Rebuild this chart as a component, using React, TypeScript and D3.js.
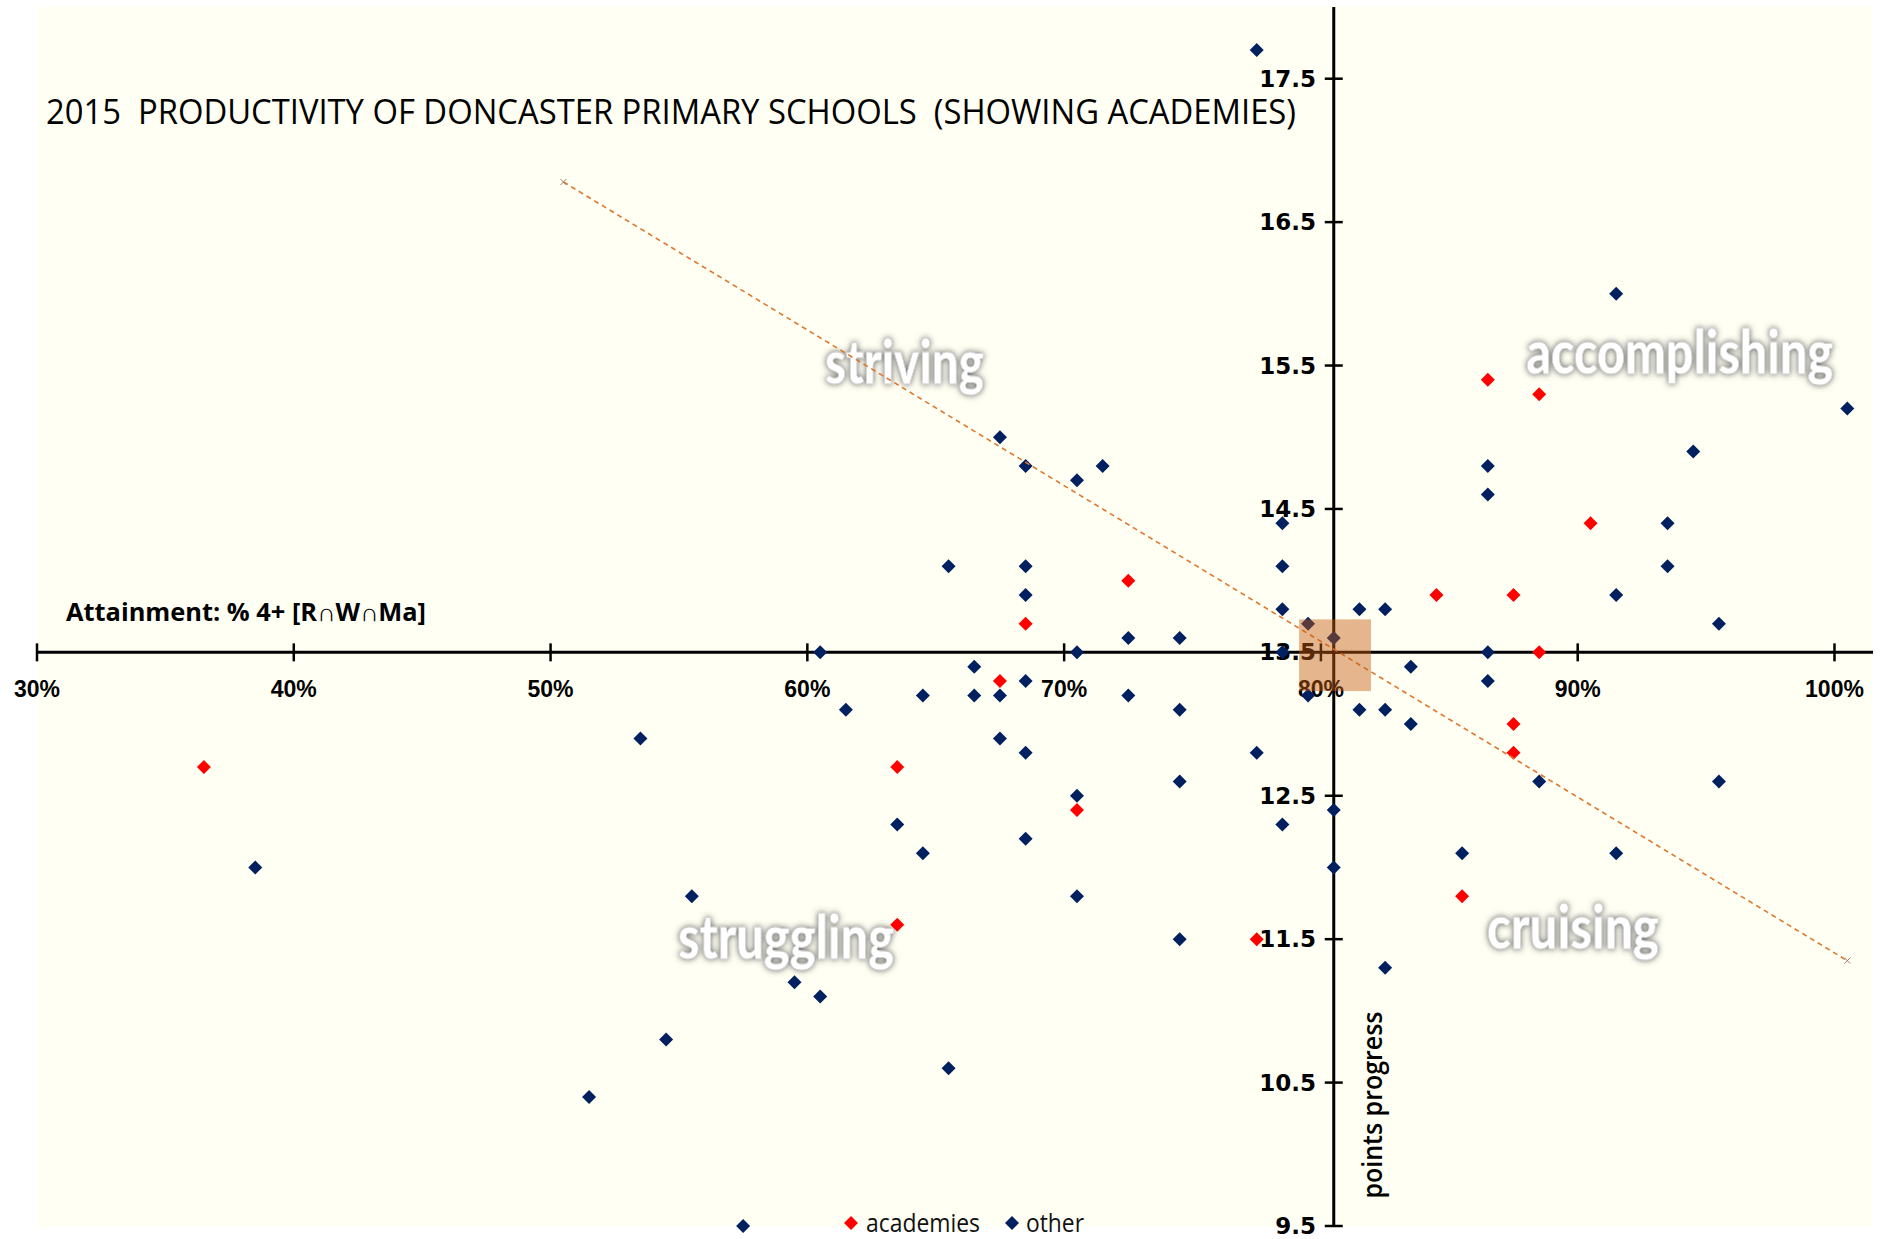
import React from "react";
import * as d3 from "d3";

// ---------- data ----------
const academiesX = [36.5, 63.5, 63.5, 67.5, 68.5, 70.5, 72.5, 77.5, 86.5, 88.5, 90.5, 84.5, 87.5, 88.5, 87.5, 87.5, 85.5];
const academiesY = [12.7, 12.7, 11.6, 13.3, 13.7, 12.4, 14.0, 11.5, 15.4, 15.3, 14.4, 13.9, 13.9, 13.5, 13.0, 12.8, 11.8];

const otherX = [
  77.5, 91.5, 100.5, 67.5, 68.5, 71.5, 70.5, 86.5, 86.5, 94.5, 78.5, 93.5, 65.5, 68.5, 78.5, 93.5,
  68.5, 91.5, 78.5, 81.5, 82.5, 95.5, 79.5, 72.5, 74.5, 80.5, 60.5, 70.5, 78.5, 86.5, 83.5, 66.5,
  68.5, 86.5, 64.5, 66.5, 67.5, 72.5, 79.5, 61.5, 74.5, 81.5, 82.5, 83.5, 53.5, 67.5, 68.5, 77.5,
  88.5, 95.5, 74.5, 70.5, 80.5, 63.5, 78.5, 68.5, 64.5, 85.5, 91.5, 38.5, 80.5, 55.5, 70.5, 74.5,
  82.5, 59.5, 60.5, 54.5, 65.5, 51.5, 57.5,
];
const otherY = [
  17.7, 16.0, 15.2, 15.0, 14.8, 14.8, 14.7, 14.8, 14.6, 14.9, 14.4, 14.4, 14.1, 14.1, 14.1, 14.1,
  13.9, 13.9, 13.8, 13.8, 13.8, 13.7, 13.7, 13.6, 13.6, 13.6, 13.5, 13.5, 13.5, 13.5, 13.4, 13.4,
  13.3, 13.3, 13.2, 13.2, 13.2, 13.2, 13.2, 13.1, 13.1, 13.1, 13.1, 13.0, 12.9, 12.9, 12.8, 12.8,
  12.6, 12.6, 12.6, 12.5, 12.4, 12.3, 12.3, 12.2, 12.1, 12.1, 12.1, 12.0, 12.0, 11.8, 11.8, 11.5,
  11.3, 11.2, 11.1, 10.8, 10.6, 10.4, 9.5,
];

const trendX = [50.5, 100.5];
const trendY = [16.78, 11.35];

const xTickValues = [30, 40, 50, 60, 70, 80, 90, 100];
const yTickValues = [9.5, 10.5, 11.5, 12.5, 13.5, 14.5, 15.5, 16.5, 17.5];

const xDomain = [30, 101.5];
const yDomain = [9.5, 18];
const yAxisCrossX = 80.5;
const xAxisCrossY = 13.5;

// highlight box (data units)
const boxX = [79.15, 81.95];
const boxY = [13.23, 13.73];

const titleText = "2015  PRODUCTIVITY OF DONCASTER PRIMARY SCHOOLS  (SHOWING ACADEMIES)";
const xAxisTitle = "Attainment: % 4+ [R\u2229W\u2229Ma]";
const yAxisTitle = "points progress";
const legendLabels = ["academies", "other"];
const quadrantLabels = ["striving", "accomplishing", "struggling", "cruising"];
const quadrantX = [63.78, 93.97, 59.17, 89.82];
const quadrantY = [15.37, 15.44, 11.36, 11.43];

const RED = "#FF0000";
const NAVY = "#002060";

const W = 1881;
const H = 1239;

const diamond = (r: number) => `M0,${-r}L${r},0L0,${r}L${-r},0Z`;

export default function App() {
  const x = d3.scaleLinear().domain(xDomain).range([37, 1873]);
  const y = d3.scaleLinear().domain(yDomain).range([1226, 7]);
  const axY = y(xAxisCrossY);
  const axX = x(yAxisCrossX);
  const fmtPct = (v: number) => `${v}%`;
  const fmtY = d3.format(".1f");

  const academies = academiesX.map((v, i) => [v, academiesY[i]]);
  const others = otherX.map((v, i) => [v, otherY[i]]);
  const line = d3
    .line<number>()
    .x((d) => x(trendX[d]))
    .y((d) => y(trendY[d]));

  const qWidths = [159, 307, 216, 172];
  const R = 7;

  return (
    <svg
      width={W}
      height={H}
      style={{ position: "absolute", left: 0, top: 0, display: "block" }}
      xmlns="http://www.w3.org/2000/svg"
    >
      <defs>
        <filter id="glow" x="-20%" y="-40%" width="140%" height="180%">
          <feGaussianBlur in="SourceAlpha" stdDeviation="3" result="b" />
          <feFlood floodColor="#5a5a5a" floodOpacity="0.95" />
          <feComposite in2="b" operator="in" result="s" />
          <feMerge>
            <feMergeNode in="s" />
            <feMergeNode in="SourceGraphic" />
          </feMerge>
        </filter>
      </defs>
      <rect x={0} y={0} width={W} height={H} fill="#ffffff" />
      <rect x={x(xDomain[0])} y={y(yDomain[1])} width={x(xDomain[1]) - x(xDomain[0])} height={y(yDomain[0]) - y(yDomain[1]) + 1} fill="#FFFFF3" />

      {/* quadrant labels */}
      {quadrantLabels.map((t, i) => (
        <text
          key={t}
          x={x(quadrantX[i])}
          y={y(quadrantY[i])}
          textAnchor="middle"
          fontFamily="Lato, 'Open Sans', sans-serif"
          fontWeight={900}
          fontSize={60}
          fill="#ffffff"
          stroke="#cfcfcf"
          strokeWidth={0.8}
          filter="url(#glow)"
          textLength={qWidths[i]}
          lengthAdjust="spacingAndGlyphs"
        >
          {t}
        </text>
      ))}

      {/* title */}
      <text
        x={46}
        y={124}
        xmlSpace="preserve"
        style={{ whiteSpace: "pre" }}
        fontFamily="'Open Sans', 'Liberation Sans', sans-serif"
        fontSize={34}
        fill="#000"
        textLength={1250}
        lengthAdjust="spacingAndGlyphs"
      >
        {titleText}
      </text>

      {/* x axis */}
      <line x1={x(xDomain[0])} x2={x(xDomain[1])} y1={axY} y2={axY} stroke="#000" strokeWidth={3} />
      {xTickValues.map((v) => (
        <g key={v}>
          <line x1={x(v)} x2={x(v)} y1={axY - 9} y2={axY + 9} stroke="#000" strokeWidth={2.5} />
          <text
            x={x(v)}
            y={697}
            textAnchor="middle"
            fontFamily="'Liberation Sans', Arial, sans-serif"
            fontWeight={700}
            fontSize={23}
            fill="#000"
          >
            {fmtPct(v)}
          </text>
        </g>
      ))}

      {/* y axis */}
      <line x1={axX} x2={axX} y1={y(yDomain[0])} y2={y(yDomain[1])} stroke="#000" strokeWidth={3} />
      {yTickValues.map((v) => (
        <g key={v}>
          <line x1={axX - 9} x2={axX + 9} y1={y(v)} y2={y(v)} stroke="#000" strokeWidth={2.5} />
          <text
            x={1316}
            y={y(v) + 8}
            textAnchor="end"
            fontFamily="'DejaVu Sans', Verdana, sans-serif"
            fontWeight={700}
            fontSize={23}
            fill="#000"
          >
            {fmtY(v)}
          </text>
        </g>
      ))}

      {/* axis titles */}
      <text
        x={66}
        y={621}
        fontFamily="'Open Sans', 'Liberation Sans', sans-serif"
        fontWeight={700}
        fontSize={25}
        fill="#000"
        textLength={360}
        lengthAdjust="spacingAndGlyphs"
      >
        {xAxisTitle}
      </text>
      <text
        transform={`translate(1382,1105) rotate(-90)`}
        textAnchor="middle"
        fontFamily="'Open Sans', 'Liberation Sans', sans-serif"
        fontWeight={600}
        fontSize={27}
        fill="#000"
        textLength={187}
        lengthAdjust="spacingAndGlyphs"
      >
        {yAxisTitle}
      </text>

      {/* points */}
      {academies.map((d, i) => (
        <path key={`a${i}`} d={diamond(R)} transform={`translate(${x(d[0])},${y(d[1])})`} fill={RED} />
      ))}
      {others.map((d, i) => (
        <path key={`o${i}`} d={diamond(R)} transform={`translate(${x(d[0])},${y(d[1])})`} fill={NAVY} />
      ))}

      {/* trend line */}
      <path d={line([0, 1]) || ""} fill="none" stroke="#E0762C" strokeWidth={1.6} strokeDasharray="5,4" />
      {[0, 1].map((i) => (
        <g key={`tx${i}`} transform={`translate(${x(trendX[i])},${y(trendY[i])})`} stroke="#a08070" strokeWidth={1}>
          <line x1={-3} y1={-3} x2={3} y2={3} />
          <line x1={-3} y1={3} x2={3} y2={-3} />
        </g>
      ))}

      {/* highlight box */}
      <rect
        x={x(boxX[0])}
        y={y(boxY[1])}
        width={x(boxX[1]) - x(boxX[0])}
        height={y(boxY[0]) - y(boxY[1])}
        fill="#C55A11"
        fillOpacity={0.45}
      />

      {/* legend */}
      <path d={diamond(R)} transform="translate(851,1223)" fill={RED} />
      <text x={866} y={1232} fontFamily="'Open Sans', 'Liberation Sans', sans-serif" fontSize={25} fill="#111" textLength={114} lengthAdjust="spacingAndGlyphs">
        {legendLabels[0]}
      </text>
      <path d={diamond(R)} transform="translate(1012,1223)" fill={NAVY} />
      <text x={1026} y={1232} fontFamily="'Open Sans', 'Liberation Sans', sans-serif" fontSize={25} fill="#111" textLength={58} lengthAdjust="spacingAndGlyphs">
        {legendLabels[1]}
      </text>
    </svg>
  );
}
